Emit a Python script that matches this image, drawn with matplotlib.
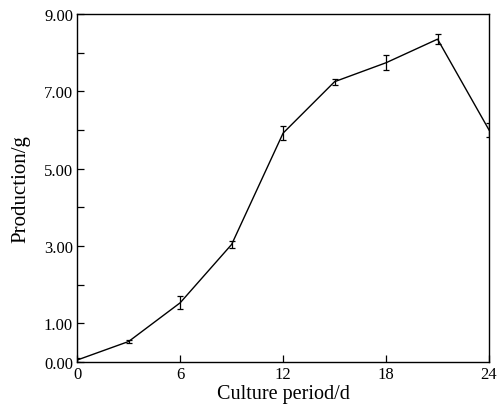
import numpy as np
import matplotlib
matplotlib.use("Agg")
import matplotlib.pyplot as plt
from matplotlib.ticker import FixedLocator, FormatStrFormatter

# data
days = [0, 3, 6, 9, 12, 15, 18, 21, 24]
production = [0.05, 0.53, 1.53, 3.04, 5.92, 7.25, 7.74, 8.35, 6.0]
errors = [0.04, 0.05, 0.17, 0.10, 0.18, 0.08, 0.19, 0.13, 0.17]

x_ticks = [0, 6, 12, 18, 24]
y_major = [0, 1, 3, 5, 7, 9]
y_minor = [2, 4, 6, 8]

plt.rcParams['font.family'] = ['Liberation Serif', 'DejaVu Serif']

fig = plt.figure(figsize=(4.98, 4.06), dpi=100)
ax = fig.add_axes([0.155, 0.106, 0.827, 0.857])

ax.errorbar(days, production, yerr=errors, color='black', lw=1.0,
            capsize=2.5, elinewidth=0.9, capthick=0.9)

ax.set_xlim(0, 24)
ax.set_ylim(0, 9)
ax.set_xticks(x_ticks)
ax.yaxis.set_major_locator(FixedLocator(y_major))
ax.yaxis.set_minor_locator(FixedLocator(y_minor))
ax.yaxis.set_major_formatter(FormatStrFormatter('%.2f'))
ax.tick_params(direction='in', length=5, width=0.9, labelsize=12, pad=3)
ax.tick_params(which='minor', direction='in', length=5, width=0.9)
for s in ax.spines.values():
    s.set_linewidth(1.0)

ax.set_xlabel('Culture period/d', fontsize=14.5, labelpad=1)
ax.set_ylabel('Production/g', fontsize=15, labelpad=10)

fig.savefig('out.png', dpi=100)
